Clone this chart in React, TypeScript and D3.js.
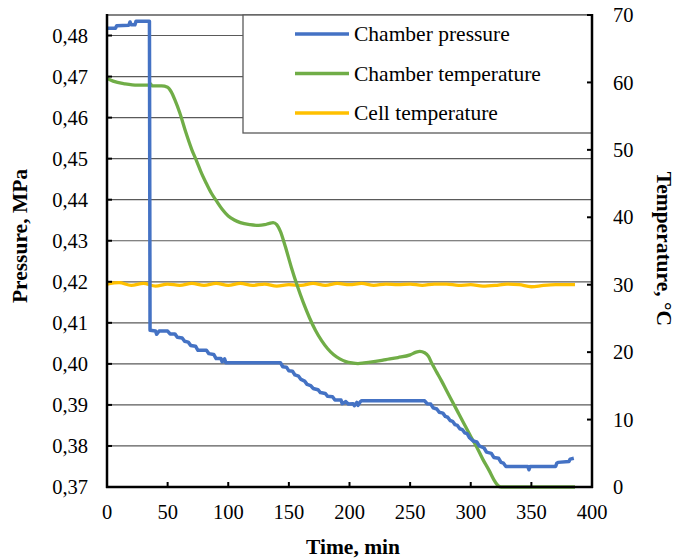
import React from "react";
import * as d3 from "d3";

const pressureData: [number, number][] = [
  [0, 0.4818], [7, 0.4818], [8, 0.4824], [18, 0.4825], [19, 0.4833], [20, 0.4826], [23, 0.4826], [24, 0.4835], [35, 0.4835],
  [35.5, 0.4082], [40, 0.408], [41, 0.4072], [43, 0.408], [50, 0.408], [52, 0.4073], [56, 0.4073], [58, 0.4065], [62, 0.4063],
  [64, 0.4055], [67, 0.4053], [69, 0.4045], [73, 0.4043], [75, 0.4033], [82, 0.4033], [84, 0.4025], [88, 0.4023], [90, 0.4013],
  [94, 0.4013], [95, 0.4005], [97, 0.4012], [98, 0.4003], [143, 0.4003], [145, 0.3993], [148, 0.3992], [150, 0.3983], [153, 0.3982],
  [155, 0.3973], [158, 0.397], [160, 0.3962], [163, 0.3958], [165, 0.395], [168, 0.3947], [170, 0.394], [174, 0.3937], [176, 0.393],
  [180, 0.3928], [182, 0.3921], [186, 0.392], [188, 0.3912], [193, 0.3912], [194, 0.3903], [197, 0.3908], [199, 0.3902], [203, 0.3903],
  [204, 0.3898], [206, 0.3906], [207, 0.3899], [209, 0.3908], [210, 0.391], [262, 0.391], [264, 0.3903], [267, 0.3902], [269, 0.3893],
  [272, 0.389], [274, 0.3882], [277, 0.388], [279, 0.3872], [281, 0.387], [283, 0.3862], [285, 0.386], [287, 0.3852], [289, 0.385],
  [291, 0.3842], [293, 0.384], [295, 0.3832], [297, 0.383], [299, 0.382], [302, 0.3812], [305, 0.381], [307, 0.38], [311, 0.3795],
  [313, 0.3785], [317, 0.3782], [319, 0.3772], [323, 0.377], [325, 0.376], [327, 0.3758], [329, 0.375], [347, 0.375], [348, 0.3742],
  [349, 0.375], [370, 0.375], [371, 0.3758], [372, 0.376], [381, 0.3762], [382, 0.3768], [385, 0.377],
];

const chamberTempData: [number, number][] = [
  [0, 60.6], [5, 60.2], [15, 59.8], [25, 59.6], [35, 59.6], [36, 59.8], [37, 59.5], [45, 59.5], [50, 59.3], [53, 58.6], [56, 57.4],
  [60, 55.5], [65, 52.6], [70, 50], [74, 48.3], [78, 46.5], [82, 45], [86, 43.6], [90, 42.5], [95, 41.2], [100, 40.2], [105, 39.6],
  [110, 39.2], [118, 38.9], [125, 38.8], [130, 38.9], [134, 39.1], [137, 39.2], [140, 38.9], [143, 37.9], [147, 35.7], [152, 32.6],
  [157, 29.8], [162, 27.3], [167, 25.1], [172, 23.2], [177, 21.7], [182, 20.5], [187, 19.6], [192, 19.0], [197, 18.6], [202, 18.4],
  [207, 18.3], [212, 18.4], [220, 18.6], [230, 18.9], [240, 19.2], [250, 19.6], [255, 20.0], [258, 20.1], [262, 19.9], [265, 19.4],
  [268, 18.3], [272, 17.0], [276, 15.7], [280, 14.3], [285, 12.6], [290, 10.9], [295, 9.2], [300, 7.5], [305, 5.9], [310, 4.1],
  [315, 2.5], [319, 1.1], [322, 0.3], [325, 0], [386, 0],
];

const cellTempData: [number, number][] = [
  [0, 30.1], [10, 30.3], [20, 29.9], [30, 30.2], [40, 29.8], [50, 30.1], [60, 29.9], [70, 30.2], [80, 29.9], [90, 30.2],
  [100, 29.9], [110, 30.2], [120, 29.9], [130, 30.1], [140, 29.8], [150, 30.0], [160, 29.9], [170, 30.2], [180, 29.9], [190, 30.2],
  [200, 30.0], [210, 30.2], [220, 29.9], [230, 30.1], [240, 30.0], [250, 30.1], [260, 29.9], [270, 30.1], [280, 30.1], [290, 29.9],
  [300, 30.0], [310, 29.8], [320, 29.9], [330, 30.1], [340, 30.0], [350, 29.7], [360, 29.9], [370, 30.0], [380, 30.0], [386, 30.0],
];

const xTicks = [0, 50, 100, 150, 200, 250, 300, 350, 400];
const pressureTicks = [0.37, 0.38, 0.39, 0.4, 0.41, 0.42, 0.43, 0.44, 0.45, 0.46, 0.47, 0.48];
const tempTicks = [0, 10, 20, 30, 40, 50, 60, 70];
const seriesNames = ["Chamber pressure", "Chamber temperature", "Cell temperature"];
const seriesColors = ["#4472C4", "#70AD47", "#FFC000"];

const FONT = "'Liberation Serif', 'Times New Roman', serif";

export default function App() {
  const left = 107, right = 592, top = 15, bottom = 487;
  const x = d3.scaleLinear().domain([0, 400]).range([left, right]);
  const yP = d3.scaleLinear().domain([0.37, 0.485]).range([bottom, top]);
  const yT = d3.scaleLinear().domain([0, 70]).range([bottom, top]);

  const lineP = d3.line<[number, number]>().x(d => x(d[0])).y(d => yP(d[1]));
  const lineT = d3.line<[number, number]>().x(d => x(d[0])).y(d => yT(d[1])).curve(d3.curveMonotoneX);
  const lineC = d3.line<[number, number]>().x(d => x(d[0])).y(d => yT(d[1])).curve(d3.curveMonotoneX);

  const fmt = (v: number) => v.toFixed(2).replace(".", ",");
  const grid = "#5a5a5a";

  return (
    <svg width={677} height={559} style={{ position: "absolute", left: 0, top: 0, background: "#fff" }} fontFamily={FONT}>
      <rect x={0} y={0} width={677} height={559} fill="#fff" />
      {pressureTicks.slice(1).map(t => (
        <line key={"g" + t} x1={left} x2={right} y1={yP(t)} y2={yP(t)} stroke={grid} strokeWidth={1.2} />
      ))}
      <line x1={left} x2={right} y1={top} y2={top} stroke={grid} strokeWidth={1.3} />

      <path d={lineC(cellTempData) || ""} fill="none" stroke={seriesColors[2]} strokeWidth={3.3} />
      <path d={lineT(chamberTempData) || ""} fill="none" stroke={seriesColors[1]} strokeWidth={3.3} />
      <path d={lineP(pressureData) || ""} fill="none" stroke={seriesColors[0]} strokeWidth={3.5} strokeLinejoin="round" />

      <rect x={243} y={top} width={right - 243} height={118} fill="#fff" stroke={grid} strokeWidth={1.3} />
      {seriesNames.map((n, i) => (
        <g key={n}>
          <line x1={295} x2={349} y1={34 + i * 39.5} y2={34 + i * 39.5} stroke={seriesColors[i]} strokeWidth={3.3} />
          <text x={354} y={34 + i * 39.5} dy="0.33em" fontSize={21.5} fill="#000">{n}</text>
        </g>
      ))}

      <line x1={left} x2={left} y1={top - 1} y2={bottom + 1} stroke="#000" strokeWidth={2.5} />
      <line x1={right} x2={right} y1={top - 1} y2={bottom + 1} stroke="#000" strokeWidth={2.5} />
      <line x1={left - 1} x2={right + 1} y1={bottom} y2={bottom} stroke="#000" strokeWidth={2.5} />

      {pressureTicks.map(t => (
        <g key={"p" + t}>
          <line x1={left} x2={left + 5} y1={yP(t)} y2={yP(t)} stroke="#000" strokeWidth={2} />
          <text x={88} y={yP(t)} dy="0.35em" textAnchor="end" fontSize={20.5} fill="#000">{fmt(t)}</text>
        </g>
      ))}
      {tempTicks.map(t => (
        <g key={"t" + t}>
          <line x1={right - 5} x2={right} y1={yT(t)} y2={yT(t)} stroke="#000" strokeWidth={2} />
          <text x={613} y={yT(t)} dy="0.35em" textAnchor="start" fontSize={20.5} fill="#000">{t}</text>
        </g>
      ))}
      {xTicks.map(t => (
        <g key={"x" + t}>
          <line x1={x(t)} x2={x(t)} y1={bottom} y2={bottom - 5} stroke="#000" strokeWidth={2} />
          <text x={x(t)} y={512} dy="0.35em" textAnchor="middle" fontSize={20.5} fill="#000">{t}</text>
        </g>
      ))}

      <text x={353} y={554} textAnchor="middle" fontSize={21.5} fontWeight="bold" fill="#000">Time, min</text>
      <text transform={`translate(27,236) rotate(-90)`} textAnchor="middle" fontSize={21.5} fontWeight="bold" fill="#000">Pressure, MPa</text>
      <text transform={`translate(657,249) rotate(90)`} textAnchor="middle" fontSize={21.5} fontWeight="bold" fill="#000">Temperature, °C</text>
    </svg>
  );
}
